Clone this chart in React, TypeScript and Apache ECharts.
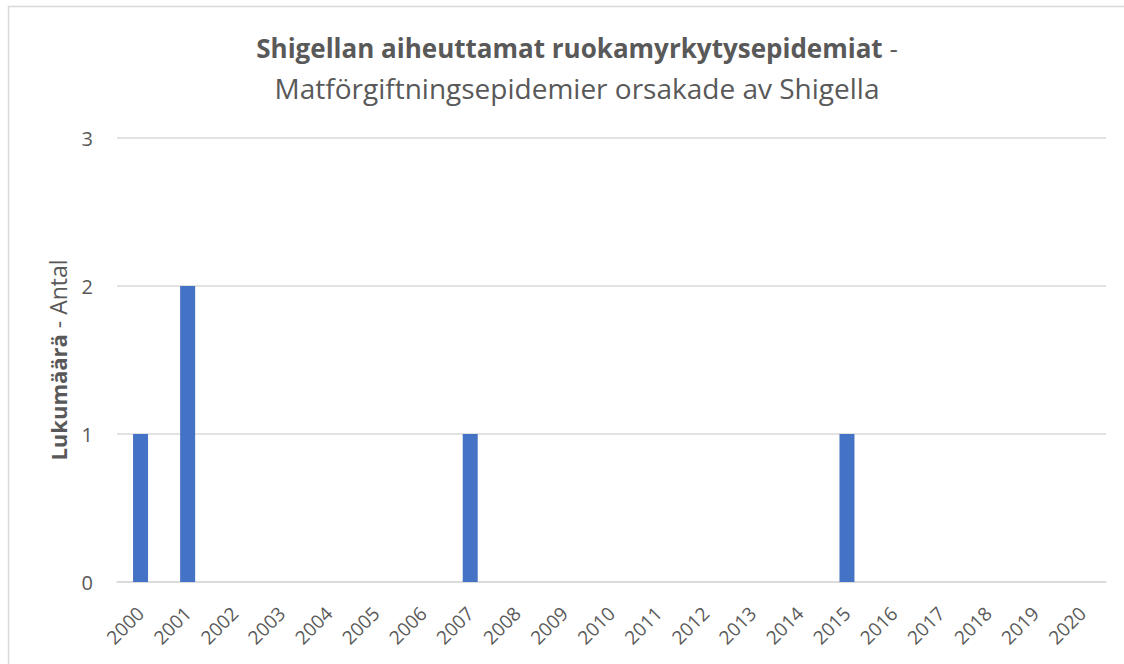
import React, { useEffect, useRef } from "react";
import * as echarts from "echarts";

const years = ["2000","2001","2002","2003","2004","2005","2006","2007","2008","2009","2010","2011","2012","2013","2014","2015","2016","2017","2018","2019","2020"];
const counts = [1,2,0,0,0,0,0,1,0,0,0,0,0,0,0,1,0,0,0,0,0];
const titleBold = "Shigellan aiheuttamat ruokamyrkytysepidemiat";
const titleRest = " -";
const subtitle = "Matförgiftningsepidemier orsakade av Shigella";
const yNameBold = "Lukumäärä";
const yNameRest = " - Antal";

const FONT = "'Open Sans', 'Noto Sans', sans-serif";
const TXT = "#595959";

export default function App() {
  const ref = useRef<HTMLDivElement>(null);
  useEffect(() => {
    if (!ref.current) return;
    const chart = echarts.init(ref.current, null, { renderer: "svg" });
    chart.setOption({
      animation: false,
      backgroundColor: "#ffffff",
      textStyle: { fontFamily: FONT },
      graphic: [
        {
          type: "rect",
          shape: { x: 8.5, y: 6.5, width: 1140, height: 700 },
          style: { fill: "none", stroke: "#d9d9d9", lineWidth: 1.5 },
          silent: true,
        },
      ],
      title: {
        left: 577,
        textAlign: "center",
        top: 28,
        padding: 0,
        text: `{b|${titleBold}}{n|${titleRest}}\n{s|${subtitle}}`,
        textStyle: {
          rich: {
            b: { fontFamily: FONT, fontSize: 26, fontWeight: "bold", color: TXT, lineHeight: 40 },
            n: { fontFamily: FONT, fontSize: 26, fontWeight: "normal", color: TXT, lineHeight: 40 },
            s: { fontFamily: FONT, fontSize: 28, fontWeight: "normal", color: TXT, lineHeight: 40 },
          },
        },
      },
      grid: { left: 117, right: 18, top: 138, bottom: 82, containLabel: false },
      xAxis: {
        type: "category",
        data: years,
        axisLine: { show: true, lineStyle: { color: "#d9d9d9", width: 1.5 } },
        axisTick: { show: false },
        axisLabel: { rotate: 45, color: TXT, fontSize: 19, fontFamily: FONT, margin: 28, interval: 0 },
      },
      yAxis: {
        type: "value",
        min: 0,
        max: 3,
        interval: 1,
        name: `{b|${yNameBold}}{n|${yNameRest}}`,
        nameLocation: "middle",
        nameGap: 48,
        nameRotate: 90,
        nameTextStyle: {
          rich: {
            b: { fontFamily: FONT, fontSize: 22, fontWeight: "bold", color: TXT },
            n: { fontFamily: FONT, fontSize: 23, fontWeight: "normal", color: TXT },
          },
        },
        axisLine: { show: false },
        axisTick: { show: false },
        axisLabel: { color: TXT, fontSize: 20, fontFamily: FONT, margin: 24 },
        splitLine: { lineStyle: { color: "#d9d9d9", width: 1.5 } },
      },
      series: [
        {
          type: "bar",
          data: counts,
          barWidth: 15,
          itemStyle: { color: "#4472C4" },
        },
      ],
    });
    return () => chart.dispose();
  }, []);
  return (
    <div
      ref={ref}
      style={{ position: "fixed", left: 0, top: 0, width: 1124, height: 664 }}
    />
  );
}
